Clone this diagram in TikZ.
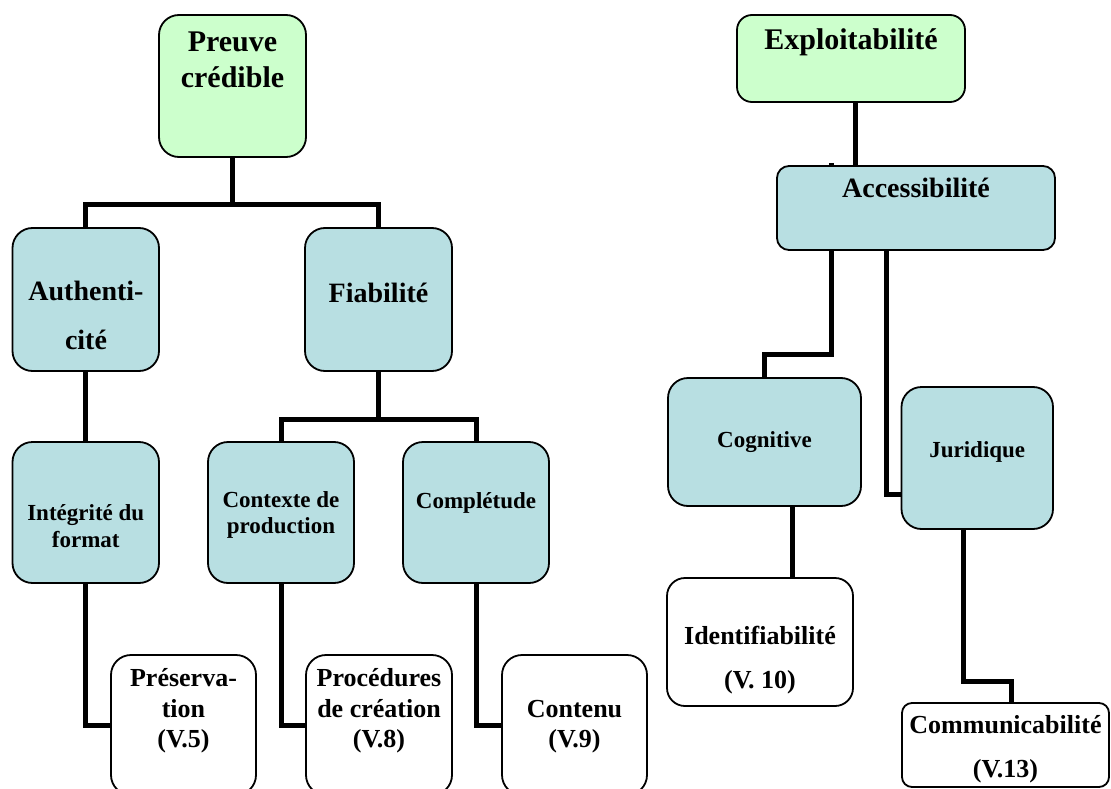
\documentclass[tikz,border=0pt]{standalone}
\usepackage{fontspec}
\setmainfont{Liberation Serif}
\pgfdeclarelayer{background}
\pgfsetlayers{background,main}
\definecolor{palegreen}{HTML}{CCFFCC}
\definecolor{paleblue}{HTML}{B8DFE2}
% box: name, fill, x1, y1, x2, y2, corner radius
\newcommand\mkbox[7]{%
  \node[box=#7, fill=#2, minimum width={#5-#3}, minimum height={#6-#4}] (#1) at (#3,#4) {};}
\begin{document}
\begin{tikzpicture}[x=1pt,y=-1pt,
  box/.style={draw=black, line width=1.8pt, rounded corners=#1pt,
    inner sep=0pt, outer sep=0pt, anchor=north west},
  lbl/.style={anchor=base, inner sep=0pt, font=\bfseries\fontsize{#1}{#1}\selectfont},
  link/.style={line width=5pt, black, line join=miter}]
\useasboundingbox (0,0) rectangle (1111,789);
\clip (0,0) rectangle (1111,789);

% ---- left tree: Preuve crédible ----
\mkbox{preuve}{palegreen}{159}{15}{306}{157}{20}
\mkbox{auth}{paleblue}{12.5}{228}{159}{371}{20}
\mkbox{fiab}{paleblue}{305}{228}{452}{371}{20}
\mkbox{integ}{paleblue}{12.5}{442}{159}{583}{20}
\mkbox{ctx}{paleblue}{208}{442}{354}{583}{20}
\mkbox{compl}{paleblue}{403}{442}{549}{583}{20}
\mkbox{pres}{white}{111}{655}{256}{795}{20}
\mkbox{proc}{white}{306}{655}{452}{795}{20}
\mkbox{cont}{white}{502}{655}{647}{795}{20}

\node[lbl=30] (preuve-a) at (232.5,52) {Preuve};
\node[lbl=30] (preuve-b) at (232.5,88) {crédible};
\node[lbl=28] (auth-a) at (86,300) {Authenti-};
\node[lbl=28] (auth-b) at (86,349) {cité};
\node[lbl=28] (fiab-a) at (378.5,302) {Fiabilité};
\node[lbl=23] (integ-a) at (85.75,520) {Intégrité du};
\node[lbl=23] (integ-b) at (85.75,547) {format};
\node[lbl=23] (ctx-a) at (281,507) {Contexte de};
\node[lbl=23] (ctx-b) at (281,533) {production};
\node[lbl=23] (compl-a) at (476,508) {Complétude};
\node[lbl=26] (pres-a) at (183.5,686) {Préserva-};
\node[lbl=26] (pres-b) at (183.5,717) {tion};
\node[lbl=26] (pres-c) at (183.5,747) {(V.5)};
\node[lbl=26] (proc-a) at (379,686) {Procédures};
\node[lbl=26] (proc-b) at (379,717) {de création};
\node[lbl=26] (proc-c) at (379,747) {(V.8)};
\node[lbl=26] (cont-a) at (574.5,717) {Contenu};
\node[lbl=26] (cont-b) at (574.5,747) {(V.9)};

% ---- right tree: Exploitabilité ----
\mkbox{expl}{palegreen}{737}{15}{965}{102}{15}
\mkbox{acc}{paleblue}{777}{166}{1055}{250}{12}
\mkbox{cogn}{paleblue}{668}{378}{861}{506}{20}
\mkbox{jur}{paleblue}{901.5}{387}{1053}{529}{20}
\mkbox{ident}{white}{667}{578}{853}{706}{18}
\mkbox{comm}{white}{902}{703}{1109}{787}{10}

\node[lbl=30] (expl-a) at (851,50) {Exploitabilité};
\node[lbl=28] (acc-a) at (916,197) {Accessibilité};
\node[lbl=23] (cogn-a) at (764.5,447) {Cognitive};
\node[lbl=23] (jur-a) at (977.25,457) {Juridique};
\node[lbl=26] (ident-a) at (760,644) {Identifiabilité};
\node[lbl=26] (ident-b) at (760,688) {(V. 10)};
\node[lbl=26] (comm-a) at (1005.5,733) {Communicabilité};
\node[lbl=26] (comm-b) at (1005.5,777) {(V.13)};

% ---- connectors, drawn beneath the boxes ----
\coordinate (busA) at (0,204);
\coordinate (busB) at (0,419);
\coordinate (busC) at (0,681);
\begin{pgfonlayer}{background}
  \draw[link] (preuve.south) -- (preuve.south |- busA) -| (auth.north);
  \draw[link] (preuve.south) -- (preuve.south |- busA) -| (fiab.north);
  \draw[link] (auth.south) -- (integ.north);
  \draw[link] (fiab.south) -- (fiab.south |- busB) -| (ctx.north);
  \draw[link] (fiab.south) -- (fiab.south |- busB) -| (compl.north);
  \draw[link] (integ.south) |- (pres.west);
  \draw[link] (ctx.south) |- (proc.west);
  \draw[link] (compl.south) |- (cont.west);

  \draw[link] ([xshift=4pt]expl.south) -- ([xshift=4pt]expl.south |- acc.north);
  \draw[link] ([xshift=-85pt,yshift=3pt]acc.north) -- ++(0,191) -| (cogn.north);
  \draw[link] ([xshift=-30pt]acc.south) |- ([yshift=-36pt]jur.west);
  \draw[link] ([xshift=28pt]cogn.south) -- ([xshift=28pt]cogn.south |- ident.north);
  \draw[link] ([xshift=-13.5pt]jur.south) |- ([xshift=5.5pt]comm.north |- busC)
    -- ([xshift=5.5pt]comm.north);
\end{pgfonlayer}
\end{tikzpicture}
\end{document}
